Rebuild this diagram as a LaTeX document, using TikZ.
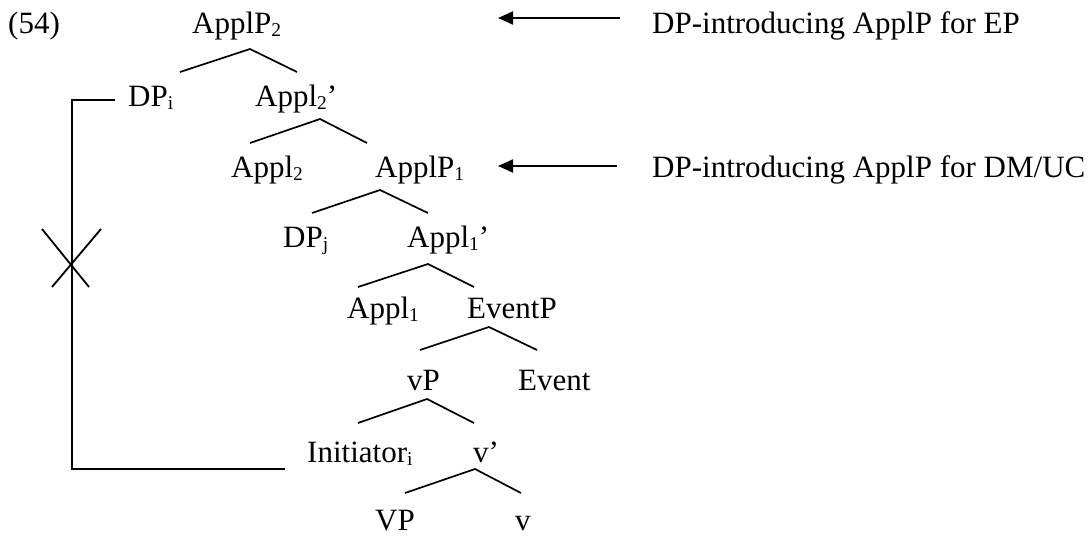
\documentclass[tikz,border=0pt]{standalone}
\usepackage{fontspec}
\setmainfont{Liberation Serif}
\usetikzlibrary{arrows.meta}
% lowered, smaller index as in the tree labels
\newcommand\subtx[1]{\raisebox{-0.12em}{\fontsize{19.5}{19.5}\selectfont #1}}
\tikzset{
  lbl/.style={anchor=base west, inner sep=0pt, font=\fontsize{31}{36}\selectfont},
  branch/.style={line width=1.7pt},
  move/.style={line width=1.8pt},
  pointer/.style={line width=1.9pt, -{Triangle[length=15pt,width=13pt]}},
}
\begin{document}
\begin{tikzpicture}[x=1pt, y=-1pt]
\useasboundingbox (0,0) rectangle (1088,536);

% example number and tree labels
\node[lbl] (ex)    at (8,33)    {(54)};
\node[lbl] (aP2)   at (192,33)  {ApplP\subtx{2}};
\node[lbl] (dpi)   at (128,106) {DP\subtx{i}};
\node[lbl] (a2bar) at (255,106) {Appl\subtx{2}’};
\node[lbl] (a2)    at (231,177) {Appl\subtx{2}};
\node[lbl] (aP1)   at (375,177) {ApplP\subtx{1}};
\node[lbl] (dpj)   at (283,247) {DP\subtx{j}};
\node[lbl] (a1bar) at (407,247) {Appl\subtx{1}’};
\node[lbl] (a1)    at (347,318) {Appl\subtx{1}};
\node[lbl] (evP)   at (467,318) {EventP};
\node[lbl] (vP)    at (407,390) {vP};
\node[lbl] (ev)    at (518,390) {Event};
\node[lbl] (init)  at (307,462) {Initiator\subtx{i}};
\node[lbl] (vbar)  at (473,462) {v’};
\node[lbl] (VP)    at (375,530) {VP};
\node[lbl] (v)     at (515,530) {v};

% side comments
\node[lbl] (c1) at (652,33)  {DP-introducing ApplP for EP};
\node[lbl] (c2) at (652,177) {DP-introducing ApplP for DM/UC};

% branch points
\coordinate (b1) at (250,49);  \coordinate (b1l) at (180,72);  \coordinate (b1r) at (297,72);
\coordinate (b2) at (320,119); \coordinate (b2l) at (250,143); \coordinate (b2r) at (367,143);
\coordinate (b3) at (380,190); \coordinate (b3l) at (312,213); \coordinate (b3r) at (428,213);
\coordinate (b4) at (428,264); \coordinate (b4l) at (358,287); \coordinate (b4r) at (474,287);
\coordinate (b5) at (489,327); \coordinate (b5l) at (420,350); \coordinate (b5r) at (537,350);
\coordinate (b6) at (427,399); \coordinate (b6l) at (358,423); \coordinate (b6r) at (474,423);
\coordinate (b7) at (475,469); \coordinate (b7l) at (405,493); \coordinate (b7r) at (521,493);

\foreach \b in {b1,b2,b3,b4,b5,b6,b7}
  \draw[branch] (\b l) -- (\b) -- (\b r);

% blocked movement path
\coordinate (m0) at (115,100);
\coordinate (m1) at (72,100);
\coordinate (m2) at (72,469);
\coordinate (m3) at (285,469);
\draw[move] (m0) -- (m1) -- (m2) -- (m3);

% cross on the path
\coordinate (x1) at (42,229);  \coordinate (x2) at (89,287);
\coordinate (x3) at (101,229); \coordinate (x4) at (52,287);
\draw[move] (x1) -- (x2);
\draw[move] (x3) -- (x4);

% arrows from comments
\coordinate (p1t) at (620,18);  \coordinate (p1h) at (498,18);
\coordinate (p2t) at (617,166); \coordinate (p2h) at (498,166);
\draw[pointer] (p1t) -- (p1h);
\draw[pointer] (p2t) -- (p2h);
\end{tikzpicture}
\end{document}
